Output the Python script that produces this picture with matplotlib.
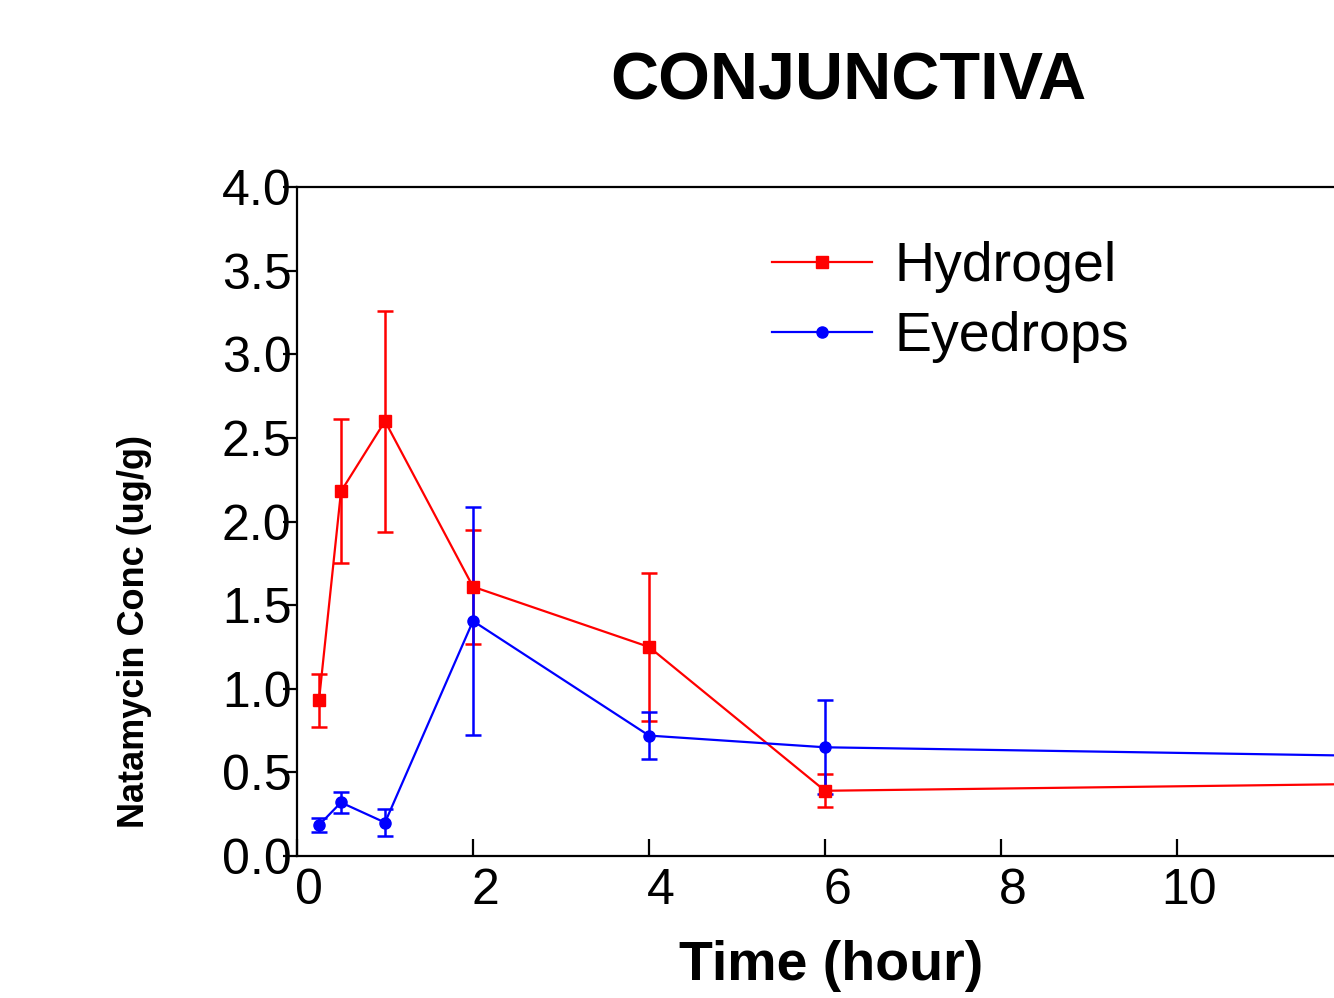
import matplotlib
matplotlib.use('Agg')
import matplotlib.pyplot as plt
from matplotlib.transforms import ScaledTranslation

# data
time_h = [0.25, 0.5, 1, 2, 4, 6, 24]
hydrogel = [0.93, 2.18, 2.60, 1.61, 1.25, 0.39, 0.51]
hydrogel_err = [0.16, 0.43, 0.66, 0.34, 0.44, 0.10, 0.10]
eyedrops = [0.185, 0.32, 0.20, 1.405, 0.72, 0.65, 0.50]
eyedrops_err = [0.04, 0.06, 0.08, 0.68, 0.14, 0.28, 0.10]

x_ticks = [0, 2, 4, 6, 8, 10, 12]
y_ticks = [0.0, 0.5, 1.0, 1.5, 2.0, 2.5, 3.0, 3.5, 4.0]

plt.rcParams['font.family'] = ['Liberation Sans', 'DejaVu Sans']

W, H = 1334, 998
fig = plt.figure(figsize=(W / 100, H / 100), dpi=100)

# axes runs off the right edge of the figure, as in the reference
px_per_hour = 88.0
left_px, bottom_px, top_px = 297, 856, 187
ax = fig.add_axes([left_px / W, (H - bottom_px) / H,
                   24 * px_per_hour / W, (bottom_px - top_px) / H])

ax.errorbar(time_h, hydrogel, yerr=hydrogel_err, color='#ff0000', marker='s',
            markersize=8, lw=1.6, capsize=6, capthick=1.8, elinewidth=1.8,
            label='Hydrogel', clip_on=False, zorder=3)
ax.errorbar(time_h, eyedrops, yerr=eyedrops_err, color='#0000ff', marker='o',
            markersize=8, lw=1.6, capsize=6, capthick=1.8, elinewidth=1.8,
            label='Eyedrops', clip_on=False, zorder=3)

ax.set_xlim(0, 24)
ax.set_ylim(0, 4.0)
ax.set_xticks(x_ticks)
ax.set_yticks(y_ticks)
ax.set_yticklabels([f'{v:.1f}' for v in y_ticks])

for s in ax.spines.values():
    s.set_linewidth(1.6)

ax.tick_params(axis='x', direction='in', length=12, width=1.6, pad=9,
               labelsize=36)
ax.tick_params(axis='y', direction='out', length=10, width=1.6, pad=-6,
               labelsize=36)

# the reference labels sit a little right of their ticks
shift = ScaledTranslation(12 / 100, 0, fig.dpi_scale_trans)
for lbl in ax.get_xticklabels():
    lbl.set_transform(lbl.get_transform() + shift)

fig.text(848 / W, 1 - 82 / H, 'CONJUNCTIVA', ha='center', va='center',
         fontsize=48, fontweight='bold')
fig.text(831 / W, 1 - 966 / H, 'Time (hour)', ha='center', va='center',
         fontsize=40, fontweight='bold')
fig.text(135 / W, 1 - 632 / H, 'Natamycin Conc (ug/g)', ha='center',
         va='center', rotation=90, fontsize=26, fontweight='bold')

handles, labels = ax.get_legend_handles_labels()
handles = [h[0] for h in handles]
fig.legend(handles, labels, loc='upper left',
           bbox_to_anchor=(772 / W, 1 - 241 / H), frameon=False,
           fontsize=40, handlelength=1.8, handletextpad=0.4,
           labelspacing=0.33, borderpad=0, borderaxespad=0)

fig.savefig('out.png', dpi=100)
